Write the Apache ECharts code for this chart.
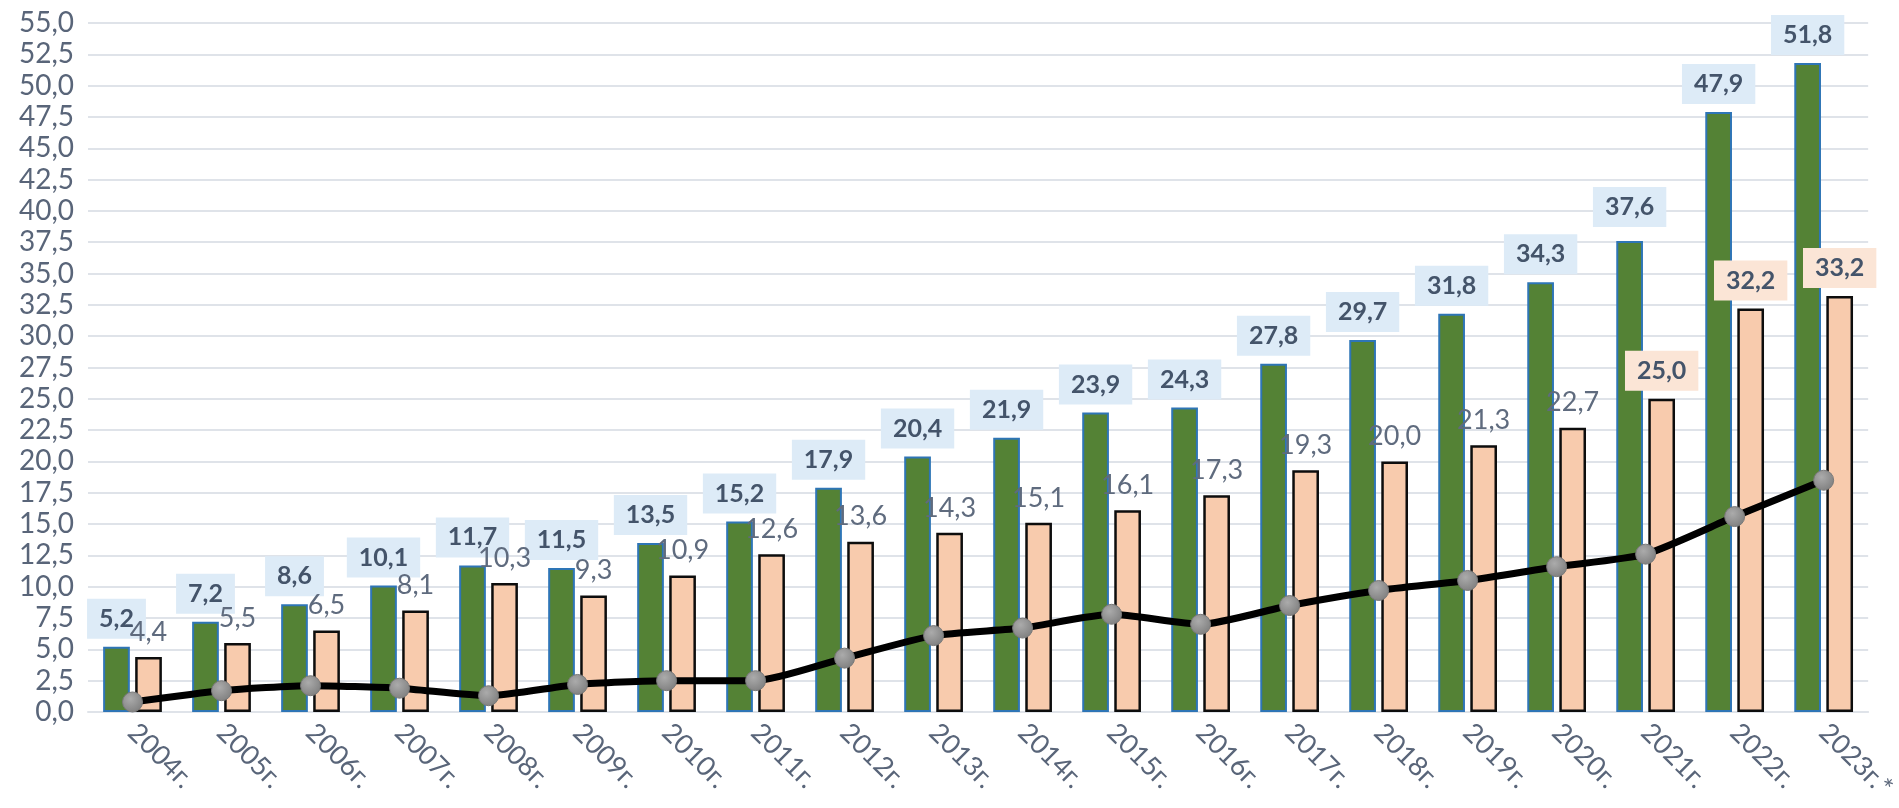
<!DOCTYPE html>
<html>
<head>
<meta charset="utf-8">
<script src="https://cdn.jsdelivr.net/npm/echarts@6/dist/echarts.min.js"></script>
<style>
  html, body { margin: 0; padding: 0; background: #fff; }
  #chart { width: 1899px; height: 808px; }
</style>
</head>
<body>
<div id="chart"></div>
<script>
const years = ['2004г.', '2005г.', '2006г.', '2007г.', '2008г.', '2009г.', '2010г.', '2011г.', '2012г.', '2013г.',
  '2014г.', '2015г.', '2016г.', '2017г.', '2018г.', '2019г.', '2020г.', '2021г.', '2022г.', '2023г.*'];

const greenValues = [5.2, 7.2, 8.6, 10.1, 11.7, 11.5, 13.5, 15.2, 17.9, 20.4, 21.9, 23.9, 24.3, 27.8, 29.7, 31.8, 34.3, 37.6, 47.9, 51.8];
const pinkValues = [4.4, 5.5, 6.5, 8.1, 10.3, 9.3, 10.9, 12.6, 13.6, 14.3, 15.1, 16.1, 17.3, 19.3, 20.0, 21.3, 22.7, 25.0, 32.2, 33.2];
const lineValues = [0.8, 1.7, 2.1, 1.9, 1.3, 2.2, 2.5, 2.5, 4.3, 6.1, 6.7, 7.8, 7.0, 8.5, 9.7, 10.5, 11.6, 12.6, 15.6, 18.5];

// pink labels that get a filled box in the original
const boxedPink = ['2021г.', '2022г.', '2023г.*'];

const FONT = 'Lato, "Open Sans", sans-serif';
const comma = v => v.toFixed(1).replace('.', ',');

const chart = echarts.init(document.getElementById('chart'));

const pinkData = pinkValues.map((v, i) => {
  if (boxedPink.indexOf(years[i]) === -1) return v;
  return {
    value: v,
    label: {
      fontWeight: 'bold',
      fontSize: 25,
      color: '#44546A',
      backgroundColor: '#FBE5D6',
      padding: [8, 12, 8, 12],
      distance: 8,
    },
  };
});

// 2021 green label sits a bit higher, with a short leader in the original
const greenData = greenValues.map((v, i) => (years[i] === '2021г.' ? { value: v, label: { distance: 14 } } : v));

chart.setOption({
  animation: false,
  backgroundColor: '#fff',
  grid: { left: 88, right: 28, top: 23, bottom: 96 },
  xAxis: {
    type: 'category',
    data: years,
    axisLine: { show: true, lineStyle: { color: '#DFE3E9', width: 2 } },
    axisTick: { show: false },
    axisLabel: {
      rotate: -45,
      margin: 16,
      fontFamily: FONT,
      fontSize: 27,
      color: '#596579',
    },
  },
  yAxis: {
    type: 'value',
    min: 0,
    max: 55,
    interval: 2.5,
    axisLine: { show: false },
    axisTick: { show: false },
    splitLine: { lineStyle: { color: '#DFE3E9', width: 2 } },
    axisLabel: {
      margin: 14,
      fontFamily: FONT,
      fontSize: 28,
      color: '#596579',
      formatter: comma,
    },
  },
  series: [
    {
      type: 'bar',
      data: greenData,
      barWidth: '30%',
      barGap: '20%',
      itemStyle: { color: '#548235', borderColor: '#2E75B6', borderWidth: 2 },
      label: {
        show: true,
        position: 'top',
        distance: 8,
        formatter: p => comma(p.value),
        fontFamily: FONT,
        fontSize: 25,
        lineHeight: 24,
        fontWeight: 'bold',
        color: '#44546A',
        backgroundColor: '#DDEBF7',
        padding: [8, 12, 8, 12],
      },
      z: 2,
    },
    {
      type: 'bar',
      data: pinkData,
      barWidth: '30%',
      itemStyle: { color: '#F8CBAD', borderColor: '#0D0D0D', borderWidth: 2.5 },
      label: {
        show: true,
        position: 'top',
        distance: 13,
        formatter: p => comma(p.value),
        fontFamily: FONT,
        fontSize: 27,
        lineHeight: 24,
        color: '#5F6B7E',
      },
      z: 2,
    },
    {
      type: 'line',
      data: lineValues,
      smooth: 0.2,
      symbol: 'circle',
      symbolSize: 20,
      lineStyle: { color: '#000', width: 7 },
      itemStyle: {
        color: new echarts.graphic.RadialGradient(0.4, 0.35, 0.7, [
          { offset: 0, color: '#ABABAB' },
          { offset: 1, color: '#7E7E7E' },
        ]),
        borderColor: '#7A7A7A',
        borderWidth: 1,
      },
      z: 5,
    },
  ],
});
</script>
</body>
</html>
